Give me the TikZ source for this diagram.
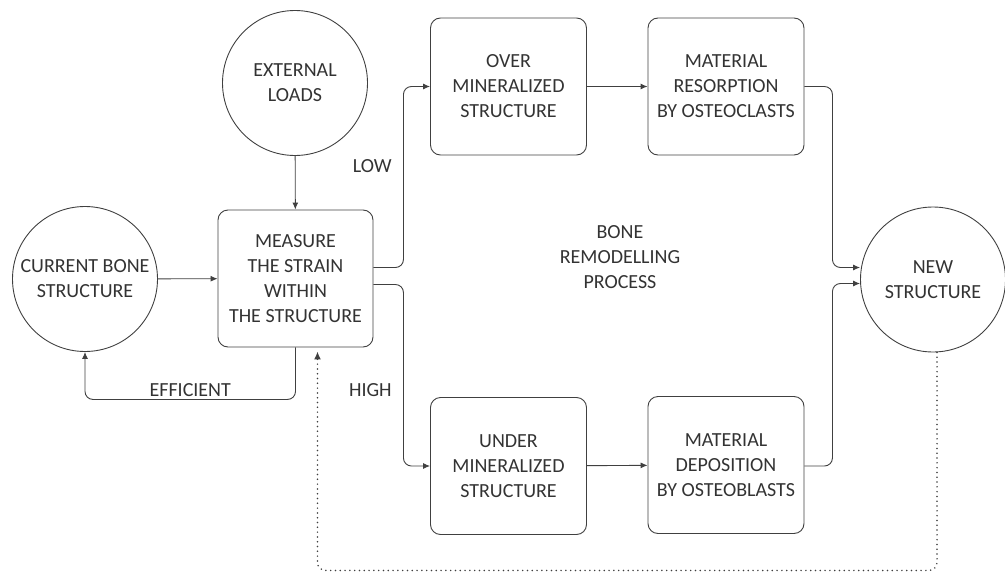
\documentclass[tikz,border=0pt]{standalone}
\usepackage{fontspec}
\setmainfont{Carlito}
\usetikzlibrary{positioning, arrows.meta}

\begin{document}
\begin{tikzpicture}[x=1pt, y=-1pt]
    \useasboundingbox (0,0) rectangle (1005,573);

    % Define styles
    \tikzset{
        stage/.style={draw=black!75, line width=0.9pt, rounded corners=10pt,
            minimum width=156pt, minimum height=137pt, align=center,
            text=black!80, font=\fontsize{20}{25}\selectfont},
        state/.style={draw=black!75, line width=0.9pt, circle,
            minimum size=145pt, align=center, inner sep=0pt,
            text=black!80, font=\fontsize{20}{25}\selectfont},
        flow/.style={draw=black!75, line width=0.9pt, rounded corners=8pt,
            -{Latex[length=7pt, width=6pt]}},
        feedback/.style={flow, dash pattern=on 0pt off 4.8pt, line cap=round,
            line width=1.7pt, -{Latex[length=8pt, width=7pt]}},
        tag/.style={text=black!80, font=\fontsize{20}{25}\selectfont, align=center}
    }

    % Define nodes
    \node[state] (Current) at (85, 279) {CURRENT BONE\\STRUCTURE};
    \node[state] (Loads) at (295, 83) {EXTERNAL\\LOADS};
    \node[stage, minimum width=155pt] (Measure) at (295.5, 278.5) {MEASURE\\THE STRAIN\\WITHIN\\THE STRUCTURE};
    \node[stage] (Over) at (508.5, 86.5) {OVER\\MINERALIZED\\STRUCTURE};
    \node[stage] (Resorption) at (726, 86.5) {MATERIAL\\RESORPTION\\BY OSTEOCLASTS};
    \node[stage] (Under) at (508.5, 466) {UNDER\\MINERALIZED\\STRUCTURE};
    \node[stage] (Deposition) at (726, 465) {MATERIAL\\DEPOSITION\\BY OSTEOBLASTS};
    \node[state] (New) at (933, 279.5) {NEW\\STRUCTURE};
    \node[tag] (Process) at (620, 257) {BONE\\REMODELLING\\PROCESS};

    % Draw connectors
    \draw[flow] (Current) -- (Measure);
    \draw[flow] (Loads) -- (Measure);
    \draw[flow] ([yshift=11pt]Measure.east) -- ++(30,0)
        |- node[tag, left=8pt, pos=0.28] {LOW} (Over.west);
    \draw[flow] ([yshift=-6pt]Measure.east) -- ++(30,0)
        |- node[tag, left=8pt, pos=0.29] {HIGH} (Under.west);
    \draw[flow] (Over) -- (Resorption);
    \draw[flow] (Under) -- (Deposition);
    \draw[flow] (Resorption.east) -- ++(28,0) |- ([yshift=12pt]New.west);
    \draw[flow] ([yshift=-1pt]Deposition.east) -- ++(28,0) |- ([yshift=-4pt]New.west);
    \draw[flow] (Measure.south) -- ++(0,52)
        -| node[tag, above=-1pt, pos=0.25] {EFFICIENT} (Current.south);
    \draw[feedback, shorten >=4pt] ([xshift=4pt]New.south) -- ++(0,218)
        -| ([xshift=22pt]Measure.south);
\end{tikzpicture}
\end{document}
